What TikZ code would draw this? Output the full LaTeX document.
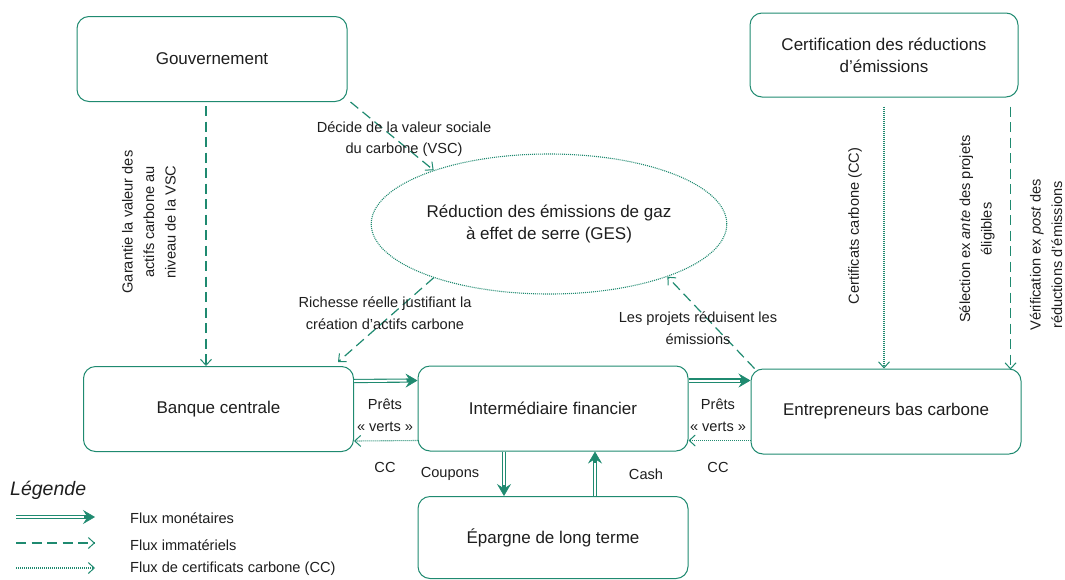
\documentclass[tikz,border=0pt]{standalone}
\usepackage{fontspec}
\setmainfont{Liberation Sans}
\usetikzlibrary{shapes.geometric,arrows.meta}
\definecolor{teal1}{RGB}{31,138,112}
\definecolor{txt}{RGB}{30,30,30}
\tikzset{
  box/.style={draw=teal1, line width=1pt, rounded corners=12pt, minimum width=270pt, minimum height=85pt, align=center, text=txt, font=\fontsize{17}{22}\selectfont},
  lbl/.style={text=txt, align=center, font=\fontsize{14.6}{21.5}\selectfont, inner sep=0pt},
  imm/.style={draw=teal1, line width=1.2pt, dash pattern=on 10pt off 5.5pt, -{Straight Barb[length=6pt,width=11pt,line width=1pt]}},
  cct/.style={draw=teal1, line width=1.1pt, dash pattern=on 1pt off 1pt, -{Straight Barb[length=6pt,width=11pt,line width=1pt]}},
  monouter/.style={draw=teal1, line width=4.2pt, -{Stealth[length=12pt,width=14pt,inset=4.5pt,line width=0.6pt]}},
  moninner/.style={draw=white, line width=2pt, shorten >=11pt},
}
\newcommand{\monflow}[2]{\draw[monouter] #1 -- #2; \draw[moninner] #1 -- #2;}
\begin{document}
\begin{tikzpicture}[x=1pt,y=-1pt]
\useasboundingbox (0,0) rectangle (1065,579);
% boxes
\node[box] (gouv) at (212,59) {Gouvernement};
\node[box, minimum width=268pt, minimum height=84pt] (cert) at (884,55) {Certification des réductions\\d’émissions};
\node[draw=teal1, line width=1.1pt, dash pattern=on 1pt off 1pt, ellipse, minimum width=304pt, minimum height=140pt, align=center, text=txt, font=\fontsize{17}{22}\selectfont] (ell) at (549,224) {Réduction des émissions de gaz\\à effet de serre (GES)};
\node[box] (bank) at (218.5,409) {Banque centrale};
\node[box] (inter) at (553,408.5) {Intermédiaire financier};
\node[box] (entre) at (886,411.5) {Entrepreneurs bas carbone};
\node[box, minimum height=82pt] (epar) at (553,537.5) {Épargne de long terme};
% immaterial flows
\draw[imm] ([xshift=-6pt,yshift=-4pt]gouv.south) -- ([xshift=-12.5pt]bank.north);
\draw[imm] ([xshift=3pt]gouv.south east) -- (ell.155);
\draw[imm] (ell.205) -- ([xshift=-16pt,yshift=4pt]bank.north east);
\draw[imm] ([xshift=4pt]entre.north west) -- (ell.-24);
\draw[imm] ([xshift=-8pt,yshift=-9pt]cert.south east) -- ([xshift=-11pt,yshift=-1pt]entre.north east);
% carbon certificates
\draw[cct] ([yshift=-9pt]cert.south) -- (cert.south |- entre.north);
\draw[cct] ([yshift=11pt]inter.south west) -- ([yshift=11pt]bank.south east);
\draw[cct] ([yshift=14pt]entre.south west) -- ([yshift=11pt]inter.south east);
% monetary flows
\monflow{([yshift=-15pt]bank.north east)}{([yshift=-15pt]inter.north west)}
\monflow{([yshift=-15pt]inter.north east)}{([yshift=-12pt]entre.north west)}
\monflow{([xshift=-49pt]inter.south)}{([xshift=-49pt]epar.north)}
\monflow{([xshift=42pt]epar.north)}{([xshift=42pt]inter.south)}
% labels
\node[lbl] (l1) at (404,139) {Décide de la valeur sociale\\du carbone (VSC)};
\node[lbl] (l2) at (385,313) {Richesse réelle justifiant la\\création d’actifs carbone};
\node[lbl] (l3) at (698,328) {Les projets réduisent les\\émissions};
\node[lbl, rotate=90] (l4) at (149,222) {Garantie la valeur des\\actifs carbone au\\niveau de la VSC};
\node[lbl, rotate=90] (l5) at (855,226) {Certificats carbone (CC)};
\node[lbl, rotate=90] (l6) at (977,229) {Sélection ex \textit{ante} des projets\\éligibles};
\node[lbl, rotate=90] (l7) at (1046,255) {Vérification ex \textit{post} des\\réductions d’émissions};
\node[lbl] (p1) at (385,415) {Prêts\\«~verts~»};
\node[lbl] (p2) at (718,415) {Prêts\\«~verts~»};
\node[lbl] (c1) at (385,467) {CC};
\node[lbl] (c2) at (718,467) {CC};
\node[lbl] (cp) at (450,474) {Coupons};
\node[lbl] (cs) at (646,474) {Cash};
% legend
\node[text=txt, anchor=west, inner sep=0pt, font=\fontsize{19.5}{22}\selectfont\itshape] (leg) at (10,490) {Légende};
\coordinate (a1) at (16,517); \coordinate (a2) at (95,517);
\coordinate (b1) at (16,543); \coordinate (b2) at (95,543);
\coordinate (d1) at (16,568); \coordinate (d2) at (95,568);
\monflow{(a1)}{(a2)}
\draw[imm] (b1) -- (b2);
\draw[cct] (d1) -- (d2);
\node[lbl, anchor=west, font=\fontsize{14.6}{16}\selectfont] (t1) at (130,518) {Flux monétaires};
\node[lbl, anchor=west, font=\fontsize{14.6}{16}\selectfont] (t2) at (130,545) {Flux immatériels};
\node[lbl, anchor=west, font=\fontsize{14.6}{16}\selectfont] (t3) at (130,569) {Flux de certificats carbone (CC)};
\end{tikzpicture}
\end{document}
